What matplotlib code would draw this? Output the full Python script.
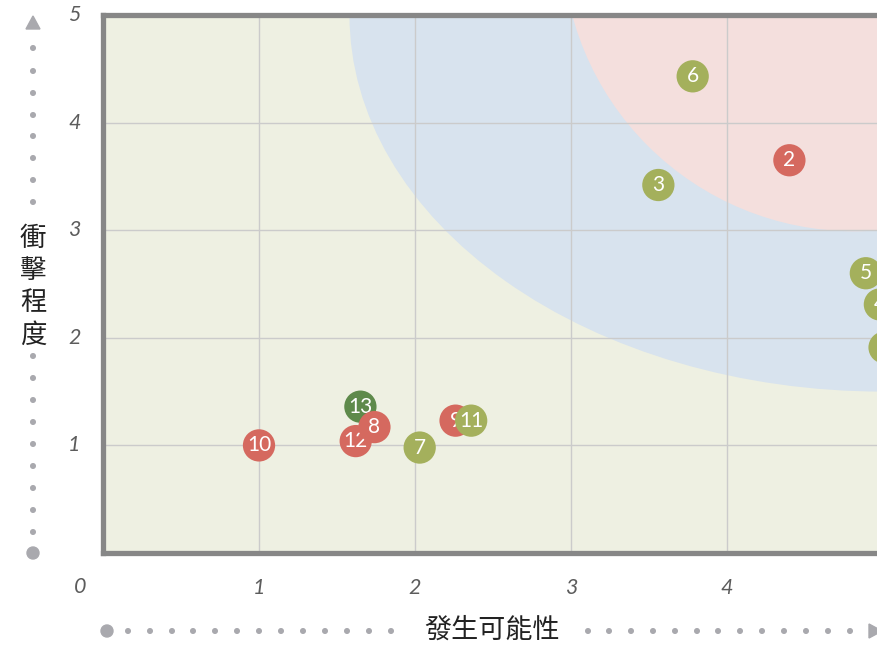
import matplotlib
matplotlib.use("Agg")
import matplotlib.pyplot as plt
from matplotlib.patches import Ellipse, Polygon, Circle

# ---- data ----
labels = ["1", "2", "3", "4", "5", "6", "7", "8", "9", "10", "11", "12", "13"]
likelihood = [5.01, 4.40, 3.56, 4.98, 4.89, 3.78, 2.03, 1.74, 2.26, 1.00, 2.36, 1.62, 1.65]
impact = [1.91, 3.65, 3.42, 2.31, 2.60, 4.43, 0.98, 1.17, 1.23, 1.00, 1.23, 1.04, 1.36]
groups = ["g", "r", "g", "g", "g", "g", "g", "r", "r", "r", "g", "r", "d"]
draw_order = ["1", "2", "3", "4", "5", "6", "7", "9", "10", "11", "13", "12", "8"]
x_ticks = [1, 2, 3, 4, 5]
y_ticks = [1, 2, 3, 4, 5]
x_label = "發生可能性"
y_label = "衝擊程度"

colors = {"g": "#a4b05c", "r": "#d5695f", "d": "#5e8a4b"}

W, H = 877, 647
fig = plt.figure(figsize=(W / 100, H / 100), dpi=100)

left, right, top, bottom = 103, 883, 15, 553
ax = fig.add_axes([left / W, (H - bottom) / H, (right - left) / W, (bottom - top) / H])
ax.set_xlim(0, 5)
ax.set_ylim(0, 5)
ax.set_facecolor("#eef0e2")

# zones
ax.add_patch(Ellipse((5, 5), 2 * 3.42, 2 * 3.5, facecolor="#d8e3ee", edgecolor="none", zorder=0.5))
ax.add_patch(Ellipse((4.817, 5.70), 2 * 1.873, 2 * 2.71, facecolor="#f4dfdd", edgecolor="none", zorder=0.6))

# grid
for v in [1, 2, 3, 4]:
    ax.axvline(v, color="#cbcbcb", lw=1.0, zorder=1)
    ax.axhline(v, color="#cbcbcb", lw=1.0, zorder=1)

for s in ax.spines.values():
    s.set_color("#878787")
    s.set_linewidth(3.8)
    s.set_zorder(5)

ax.set_xticks(x_ticks)
ax.set_yticks(y_ticks)
tick_font = dict(family="Lato", style="italic", weight="normal", size=15.5, color="#5c5c5c")
ax.set_xticklabels([str(t) for t in x_ticks], **tick_font)
ax.set_yticklabels([str(t) for t in y_ticks], **tick_font)
ax.tick_params(axis="both", length=0)
ax.tick_params(axis="x", pad=18)
ax.tick_params(axis="y", pad=16)
for lab in ax.get_yticklabels():
    lab.set_verticalalignment("center")

# points
idx = {l: i for i, l in enumerate(labels)}
for k, l in enumerate(draw_order):
    i = idx[l]
    ax.scatter(likelihood[i], impact[i], s=540, color=colors[groups[i]], edgecolors="none",
               zorder=10 + 2 * k, clip_on=False)
    ax.text(likelihood[i], impact[i], l, color="white", ha="center", va="center",
            fontsize=15, family="Lato", zorder=11 + 2 * k, clip_on=False)

# overlay for decorations in pixel coordinates
ov = fig.add_axes([0, 0, 1, 1], facecolor="none")
ov.set_xlim(0, W)
ov.set_ylim(H, 0)
ov.axis("off")

ov.text(80, 587, "0", ha="center", va="center", **tick_font)

dot_c = "#a9a9ae"
# y-axis decoration
ov.add_patch(Circle((33, 553), 6, color=dot_c))
ys_low = [532, 510, 488, 466, 444, 422, 400, 378, 356]
ys_high = [202, 180, 158, 136, 115, 93, 71, 48]
for y in ys_low + ys_high:
    ov.add_patch(Circle((33, y), 2.3, color=dot_c))
ov.add_patch(Polygon([[26, 29], [40, 29], [33, 16]], closed=True, color=dot_c))
cjk = ["Noto Sans CJK TC", "DejaVu Sans"]
for j, ch in enumerate(y_label):
    ov.text(33, 238 + j * 32.5, ch, ha="center", va="center", fontsize=19,
            family=cjk, color="#222222")

# x-axis decoration
ov.add_patch(Circle((107, 631), 6, color=dot_c))
xs_left = [128, 150, 172, 193, 215, 237, 259, 281, 303, 325, 347, 369, 391]
xs_right = [588, 609, 631, 653, 675, 697, 718, 740, 762, 784, 806, 828, 850]
for x in xs_left + xs_right:
    ov.add_patch(Circle((x, 631), 2.3, color=dot_c))
ov.add_patch(Polygon([[869, 624], [869, 638], [882, 631]], closed=True, color=dot_c))
ov.text(492, 630, x_label, ha="center", va="center", fontsize=19.5, family=cjk, color="#222222")

fig.savefig("out.png", dpi=100)
